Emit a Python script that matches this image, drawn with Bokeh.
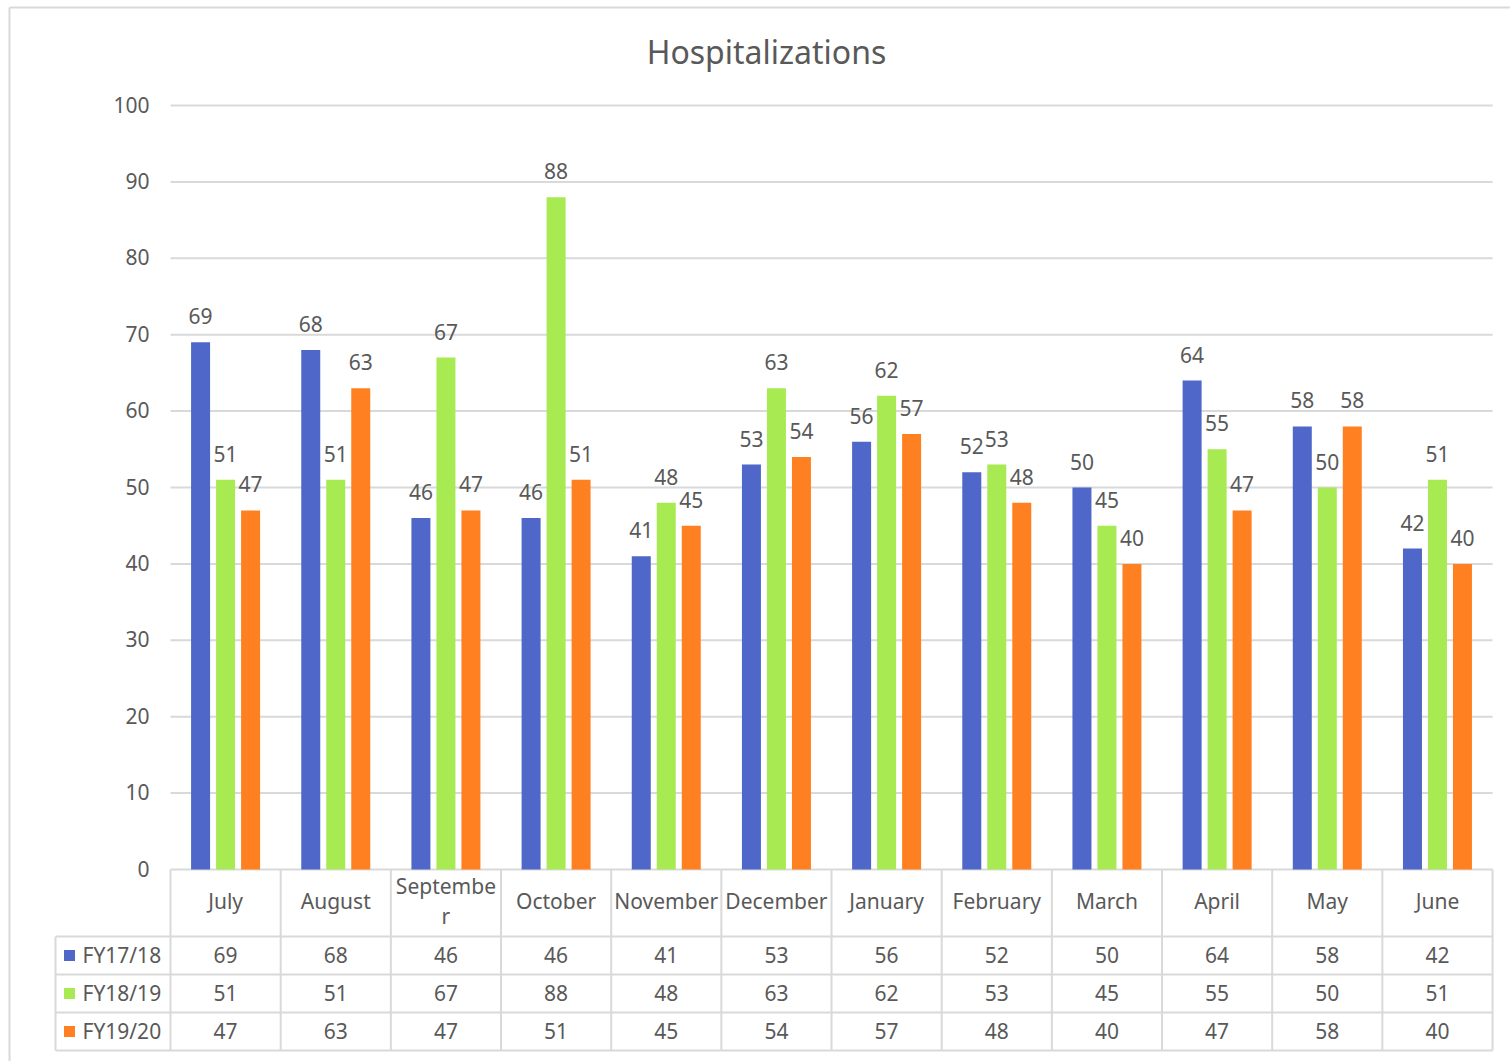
from bokeh.plotting import figure
from bokeh.models import ColumnDataSource
from bokeh.embed import file_html
from bokeh.resources import INLINE
from bokeh.core.properties import value

# ---------------- data ----------------
months = ["July", "August", "September", "October", "November", "December",
          "January", "February", "March", "April", "May", "June"]
series_names = ["FY17/18", "FY18/19", "FY19/20"]
fy1718 = [69, 68, 46, 46, 41, 53, 56, 52, 50, 64, 58, 42]
fy1819 = [51, 51, 67, 88, 48, 63, 62, 53, 45, 55, 50, 51]
fy1920 = [47, 63, 47, 51, 45, 54, 57, 48, 40, 47, 58, 40]
y_ticks = [0, 10, 20, 30, 40, 50, 60, 70, 80, 90, 100]
title_text = "Hospitalizations"

# ---------------- styles / layout ----------------
colors = ["#4E67C8", "#A7EA52", "#FF8021"]
TEXT = "#595959"
GRID = "#D9D9D9"
FONT = "Noto Sans"
FS = "21px"

W, H = 1510, 1061
PX_X = 110.17          # px per month slot
PX_Y = 7.64            # px per unit value
X0_PX = 170.0          # pixel of first month slot left edge
Y0_PX = 869.0          # pixel of value zero

def xd(px):            # pixel -> data (x)
    return (px - X0_PX) / PX_X

def yd(py):            # pixel -> data (y)
    return (Y0_PX - py) / PX_Y

header_h = 67.0 / PX_Y
row_h = 38.0 / PX_Y
bar_w = 19.0 / PX_X
bar_off = 25.0 / PX_X
n = len(months)

p = figure(width=W, height=H, output_backend="svg", toolbar_location=None,
           x_range=(xd(0), xd(W)), y_range=(yd(H), yd(0)),
           min_border=0)
p.axis.visible = False
p.grid.visible = False
p.outline_line_color = None
p.background_fill_color = "white"
p.border_fill_color = "white"

# chart-area border (left and top edges visible)
p.segment(x0=[xd(9), xd(9)], x1=[xd(9), xd(W + 5)], y0=[yd(7), yd(7)],
          y1=[yd(H + 5), yd(7)], line_color=GRID, line_width=2)

# title
p.text(x=[xd(766)], y=[yd(51)], text=[title_text], text_align="center",
       text_baseline="middle", text_font=value(FONT), text_font_size="32px",
       text_color=TEXT)

# grid lines
p.segment(x0=[0] * len(y_ticks), x1=[n] * len(y_ticks), y0=y_ticks, y1=y_ticks,
          line_color=GRID, line_width=2)
# y tick labels
p.text(x=[xd(149)] * len(y_ticks), y=y_ticks, text=[str(t) for t in y_ticks],
       text_align="right", text_baseline="middle", y_offset=-1,
       text_font=value(FONT), text_font_size=FS, text_color=TEXT)

# bars + data labels
all_series = [fy1718, fy1819, fy1920]
for k, (vals, col) in enumerate(zip(all_series, colors)):
    xs = [i + 0.5 + (k - 1) * bar_off for i in range(n)]
    src = ColumnDataSource(dict(x=xs, top=vals, label=[str(v) for v in vals]))
    p.vbar(x="x", top="top", bottom=0, width=bar_w, source=src,
           fill_color=col, line_color=None)
    p.text(x="x", y="top", text="label", source=src, text_align="center",
           text_baseline="middle", y_offset=-26, text_font=value(FONT),
           text_font_size=FS, text_color=TEXT)

# ---------------- data table ----------------
row_lines_y = [-header_h - r * row_h for r in range(len(series_names) + 1)]
p.segment(x0=[xd(55)] * len(row_lines_y), x1=[n] * len(row_lines_y),
          y0=row_lines_y, y1=row_lines_y, line_color=GRID, line_width=2)
vx = list(range(n + 1))
p.segment(x0=vx, x1=vx, y0=[0] * len(vx), y1=[row_lines_y[-1]] * len(vx),
          line_color=GRID, line_width=2)
p.segment(x0=[xd(55)], x1=[xd(55)], y0=[row_lines_y[0]],
          y1=[row_lines_y[-1]], line_color=GRID, line_width=2)

header_labels = [m if len(m) <= 8 else m[:8] + "\n" + m[8:] for m in months]
p.text(x=[i + 0.5 for i in range(n)], y=[-header_h / 2] * n, text=header_labels,
       text_align="center", text_baseline="middle", y_offset=-2,
       text_font=value(FONT), text_font_size=FS, text_color=TEXT,
       text_line_height=1.05)

for k, (name, vals, col) in enumerate(zip(series_names, all_series, colors)):
    yc = -header_h - (k + 0.5) * row_h
    p.text(x=[i + 0.5 for i in range(n)], y=[yc] * n, text=[str(v) for v in vals],
           text_align="center", text_baseline="middle", y_offset=-1,
           text_font=value(FONT), text_font_size=FS, text_color=TEXT)
    p.scatter(x=[xd(69)], y=[yc], marker="square", size=11,
              fill_color=col, line_color=None)
    p.text(x=[xd(82)], y=[yc], text=[name], text_align="left",
           text_baseline="middle", y_offset=-1, text_font=value(FONT),
           text_font_size=FS, text_color=TEXT)

open("out.html", "w").write(file_html(p, INLINE))
